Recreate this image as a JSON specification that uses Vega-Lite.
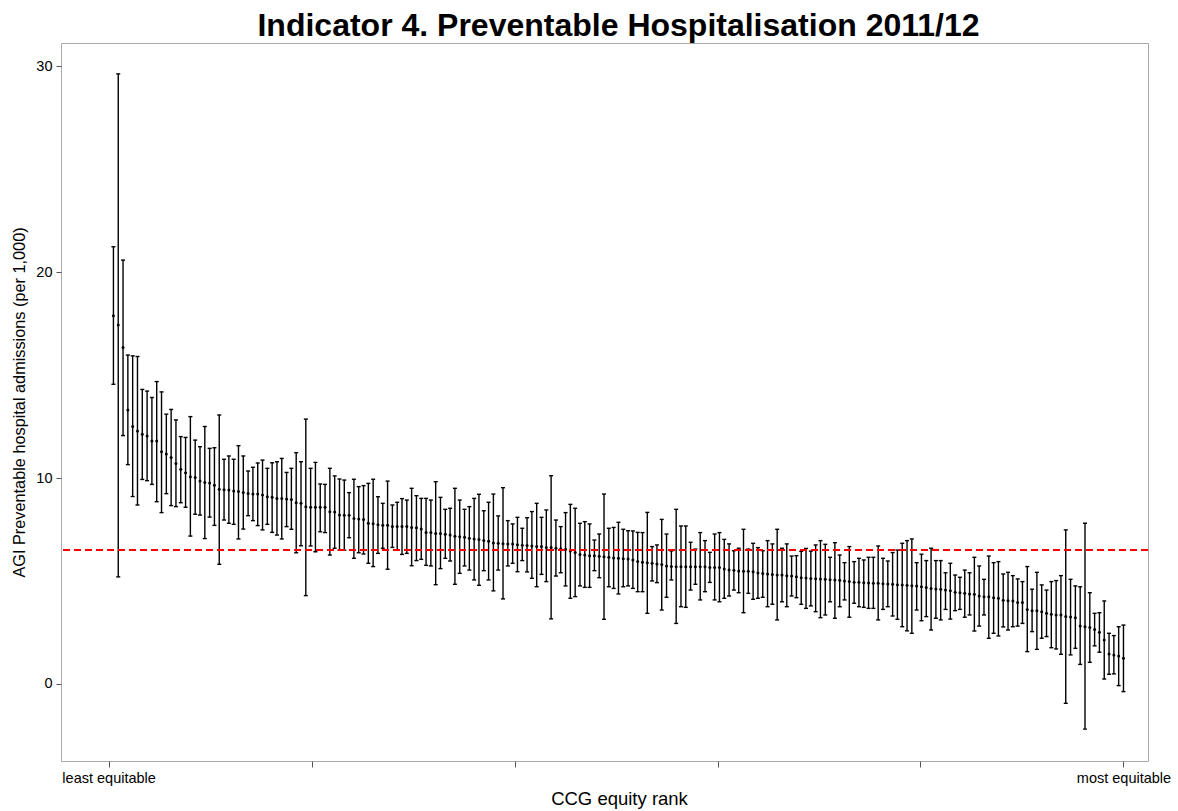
{
  "$schema": "https://vega.github.io/schema/vega-lite/v6.json",
  "autosize": "none",
  "width": 1087,
  "height": 718,
  "padding": {"left": 61, "top": 43, "right": 30, "bottom": 50},
  "background": "white",
  "title": {
    "text": "Indicator 4. Preventable Hospitalisation 2011/12",
    "font": "Liberation Sans",
    "fontSize": 32,
    "fontWeight": "bold",
    "color": "black",
    "anchor": "middle",
    "dx": 14,
    "dy": 31,
    "baseline": "alphabetic",
    "offset": 6
  },
  "config": {
    "view": {"stroke": "#aaaaaa", "strokeWidth": 1},
    "font": "Liberation Sans",
    "axis": {
      "grid": false,
      "domain": false,
      "labelFont": "Liberation Sans",
      "titleFont": "Liberation Sans",
      "labelColor": "black",
      "titleColor": "black",
      "tickColor": "#555555",
      "labelFontSize": 14.5,
      "titleFontWeight": "normal",
      "titleFontSize": 16.3
    }
  },
  "data": {
    "values": [
      {"r":1,"m":17.88,"l":14.55,"h":21.23},{"r":2,"m":17.43,"l":5.2,"h":29.62},{"r":3,"m":16.33,"l":12.06,"h":20.58},{"r":4,"m":13.3,"l":10.65,"h":15.97},{"r":5,"m":12.5,"l":9.1,"h":15.93},{"r":6,"m":12.28,"l":8.69,"h":15.9},{"r":7,"m":12.12,"l":9.93,"h":14.3},{"r":8,"m":12.04,"l":9.87,"h":14.22},{"r":9,"m":11.8,"l":9.69,"h":13.91},{"r":10,"m":11.8,"l":8.85,"h":14.68},
      {"r":11,"m":11.28,"l":8.32,"h":14.18},{"r":12,"m":11.16,"l":9.24,"h":13.1},{"r":13,"m":11.0,"l":8.66,"h":13.33},{"r":14,"m":10.71,"l":8.61,"h":12.82},{"r":15,"m":10.42,"l":8.8,"h":12.01},{"r":16,"m":10.26,"l":8.58,"h":11.97},{"r":17,"m":10.06,"l":7.18,"h":12.98},{"r":18,"m":10.03,"l":8.24,"h":11.84},{"r":19,"m":9.85,"l":8.2,"h":11.52},{"r":20,"m":9.78,"l":7.06,"h":12.5},
      {"r":21,"m":9.76,"l":8.1,"h":11.44},{"r":22,"m":9.65,"l":7.7,"h":11.47},{"r":23,"m":9.45,"l":5.81,"h":13.06},{"r":24,"m":9.43,"l":7.96,"h":10.91},{"r":25,"m":9.42,"l":7.8,"h":11.07},{"r":26,"m":9.37,"l":7.75,"h":10.91},{"r":27,"m":9.34,"l":7.04,"h":11.57},{"r":28,"m":9.3,"l":7.52,"h":11.07},{"r":29,"m":9.25,"l":8.17,"h":10.34},{"r":30,"m":9.22,"l":7.93,"h":10.52},
      {"r":31,"m":9.22,"l":7.69,"h":10.73},{"r":32,"m":9.17,"l":7.48,"h":10.87},{"r":33,"m":9.09,"l":7.75,"h":10.47},{"r":34,"m":9.06,"l":7.36,"h":10.74},{"r":35,"m":9.01,"l":7.23,"h":10.79},{"r":36,"m":9.0,"l":7.04,"h":10.95},{"r":37,"m":8.98,"l":7.64,"h":10.27},{"r":38,"m":8.96,"l":7.51,"h":10.47},{"r":39,"m":8.8,"l":6.37,"h":11.23},{"r":40,"m":8.77,"l":6.71,"h":10.79},
      {"r":41,"m":8.61,"l":4.29,"h":12.86},{"r":42,"m":8.58,"l":6.7,"h":10.47},{"r":43,"m":8.58,"l":6.42,"h":10.76},{"r":44,"m":8.58,"l":7.39,"h":9.71},{"r":45,"m":8.58,"l":7.35,"h":9.69},{"r":46,"m":8.36,"l":6.26,"h":10.47},{"r":47,"m":8.35,"l":6.59,"h":10.1},{"r":48,"m":8.2,"l":6.5,"h":9.95},{"r":49,"m":8.19,"l":6.5,"h":9.9},{"r":50,"m":8.19,"l":7.1,"h":9.29},
      {"r":51,"m":8.03,"l":6.1,"h":9.94},{"r":52,"m":8.01,"l":6.37,"h":9.58},{"r":53,"m":7.99,"l":6.31,"h":9.63},{"r":54,"m":7.8,"l":5.86,"h":9.74},{"r":55,"m":7.78,"l":5.7,"h":9.94},{"r":56,"m":7.73,"l":6.34,"h":9.09},{"r":57,"m":7.7,"l":6.59,"h":8.77},{"r":58,"m":7.7,"l":5.57,"h":9.85},{"r":59,"m":7.65,"l":6.63,"h":8.69},{"r":60,"m":7.65,"l":6.5,"h":8.82},
      {"r":61,"m":7.64,"l":6.29,"h":9.0},{"r":62,"m":7.64,"l":6.34,"h":8.93},{"r":63,"m":7.6,"l":5.74,"h":9.5},{"r":64,"m":7.59,"l":5.99,"h":9.14},{"r":65,"m":7.52,"l":6.05,"h":9.01},{"r":66,"m":7.36,"l":5.76,"h":9.01},{"r":67,"m":7.35,"l":5.73,"h":8.93},{"r":68,"m":7.31,"l":4.82,"h":9.82},{"r":69,"m":7.3,"l":5.6,"h":9.06},{"r":70,"m":7.27,"l":6.1,"h":8.48},
      {"r":71,"m":7.23,"l":5.97,"h":8.53},{"r":72,"m":7.17,"l":4.84,"h":9.5},{"r":73,"m":7.15,"l":5.37,"h":8.93},{"r":74,"m":7.12,"l":5.73,"h":8.48},{"r":75,"m":7.07,"l":5.53,"h":8.61},{"r":76,"m":7.04,"l":5.05,"h":9.01},{"r":77,"m":7.01,"l":4.79,"h":9.21},{"r":78,"m":6.96,"l":5.5,"h":8.41},{"r":79,"m":6.93,"l":5.05,"h":8.82},{"r":80,"m":6.85,"l":4.52,"h":9.22},
      {"r":81,"m":6.83,"l":5.53,"h":8.16},{"r":82,"m":6.81,"l":4.13,"h":9.53},{"r":83,"m":6.8,"l":5.73,"h":7.93},{"r":84,"m":6.8,"l":5.86,"h":7.77},{"r":85,"m":6.76,"l":5.45,"h":8.09},{"r":86,"m":6.73,"l":5.99,"h":7.56},{"r":87,"m":6.72,"l":5.44,"h":8.07},{"r":88,"m":6.7,"l":5.13,"h":8.37},{"r":89,"m":6.67,"l":4.72,"h":8.77},{"r":90,"m":6.67,"l":5.32,"h":8.09},
      {"r":91,"m":6.63,"l":4.97,"h":8.45},{"r":92,"m":6.62,"l":3.16,"h":10.11},{"r":93,"m":6.59,"l":5.24,"h":7.96},{"r":94,"m":6.57,"l":5.4,"h":7.64},{"r":95,"m":6.54,"l":4.76,"h":8.32},{"r":96,"m":6.46,"l":4.16,"h":8.72},{"r":97,"m":6.38,"l":4.24,"h":8.53},{"r":98,"m":6.29,"l":4.76,"h":7.8},{"r":99,"m":6.26,"l":4.69,"h":7.88},{"r":100,"m":6.23,"l":4.69,"h":7.77},
      {"r":101,"m":6.23,"l":5.5,"h":6.99},{"r":102,"m":6.2,"l":5.16,"h":7.28},{"r":103,"m":6.18,"l":3.14,"h":9.22},{"r":104,"m":6.15,"l":4.72,"h":7.56},{"r":105,"m":6.12,"l":4.64,"h":7.6},{"r":106,"m":6.1,"l":4.37,"h":7.85},{"r":107,"m":6.08,"l":4.72,"h":7.51},{"r":108,"m":6.07,"l":4.76,"h":7.44},{"r":109,"m":6.02,"l":4.64,"h":7.43},{"r":110,"m":5.94,"l":4.48,"h":7.36},
      {"r":111,"m":5.91,"l":4.48,"h":7.35},{"r":112,"m":5.89,"l":3.43,"h":8.33},{"r":113,"m":5.86,"l":5.0,"h":6.67},{"r":114,"m":5.82,"l":4.92,"h":6.75},{"r":115,"m":5.8,"l":3.59,"h":7.99},{"r":116,"m":5.73,"l":4.21,"h":7.28},{"r":117,"m":5.7,"l":5.05,"h":6.46},{"r":118,"m":5.69,"l":2.94,"h":8.48},{"r":119,"m":5.69,"l":3.75,"h":7.67},{"r":120,"m":5.69,"l":3.72,"h":7.67},
      {"r":121,"m":5.69,"l":4.56,"h":6.88},{"r":122,"m":5.69,"l":4.84,"h":6.55},{"r":123,"m":5.69,"l":4.08,"h":7.35},{"r":124,"m":5.69,"l":4.48,"h":6.96},{"r":125,"m":5.66,"l":4.93,"h":6.39},{"r":126,"m":5.66,"l":4.08,"h":7.28},{"r":127,"m":5.65,"l":3.99,"h":7.35},{"r":128,"m":5.58,"l":4.16,"h":7.02},{"r":129,"m":5.53,"l":4.27,"h":6.8},{"r":130,"m":5.52,"l":4.56,"h":6.47},
      {"r":131,"m":5.49,"l":4.43,"h":6.59},{"r":132,"m":5.47,"l":3.46,"h":7.51},{"r":133,"m":5.47,"l":4.4,"h":6.55},{"r":134,"m":5.45,"l":4.11,"h":6.83},{"r":135,"m":5.39,"l":4.16,"h":6.62},{"r":136,"m":5.36,"l":4.21,"h":6.47},{"r":137,"m":5.34,"l":3.75,"h":6.96},{"r":138,"m":5.31,"l":3.87,"h":6.8},{"r":139,"m":5.29,"l":3.11,"h":7.51},{"r":140,"m":5.29,"l":3.99,"h":6.59},
      {"r":141,"m":5.26,"l":3.75,"h":6.8},{"r":142,"m":5.24,"l":4.27,"h":6.21},{"r":143,"m":5.21,"l":4.19,"h":6.23},{"r":144,"m":5.16,"l":3.87,"h":6.44},{"r":145,"m":5.14,"l":3.67,"h":6.58},{"r":146,"m":5.12,"l":3.79,"h":6.45},{"r":147,"m":5.11,"l":3.51,"h":6.75},{"r":148,"m":5.1,"l":3.22,"h":6.96},{"r":149,"m":5.08,"l":3.35,"h":6.78},{"r":150,"m":5.06,"l":3.99,"h":6.15},
      {"r":151,"m":5.05,"l":3.19,"h":6.86},{"r":152,"m":5.03,"l":3.75,"h":6.26},{"r":153,"m":5.0,"l":4.08,"h":5.89},{"r":154,"m":4.97,"l":3.24,"h":6.67},{"r":155,"m":4.94,"l":3.92,"h":5.94},{"r":156,"m":4.94,"l":3.75,"h":6.1},{"r":157,"m":4.92,"l":3.72,"h":6.02},{"r":158,"m":4.9,"l":3.67,"h":6.15},{"r":159,"m":4.89,"l":3.67,"h":6.15},{"r":160,"m":4.89,"l":3.11,"h":6.7},
      {"r":161,"m":4.87,"l":3.62,"h":6.1},{"r":162,"m":4.85,"l":3.75,"h":5.97},{"r":163,"m":4.84,"l":3.3,"h":6.38},{"r":164,"m":4.82,"l":3.14,"h":6.5},{"r":165,"m":4.81,"l":2.78,"h":6.83},{"r":166,"m":4.79,"l":2.58,"h":6.96},{"r":167,"m":4.77,"l":2.46,"h":7.04},{"r":168,"m":4.76,"l":3.59,"h":5.89},{"r":169,"m":4.72,"l":3.07,"h":6.3},{"r":170,"m":4.68,"l":3.27,"h":5.99},
      {"r":171,"m":4.64,"l":2.62,"h":6.59},{"r":172,"m":4.61,"l":3.19,"h":5.99},{"r":173,"m":4.6,"l":3.11,"h":5.99},{"r":174,"m":4.56,"l":3.62,"h":5.4},{"r":175,"m":4.53,"l":3.15,"h":5.86},{"r":176,"m":4.45,"l":3.56,"h":5.29},{"r":177,"m":4.43,"l":3.62,"h":5.18},{"r":178,"m":4.4,"l":3.24,"h":5.53},{"r":179,"m":4.37,"l":3.35,"h":5.4},{"r":180,"m":4.35,"l":2.57,"h":6.15},
      {"r":181,"m":4.27,"l":2.81,"h":5.73},{"r":182,"m":4.24,"l":3.35,"h":5.08},{"r":183,"m":4.24,"l":2.22,"h":6.21},{"r":184,"m":4.19,"l":2.46,"h":5.89},{"r":185,"m":4.16,"l":2.33,"h":5.94},{"r":186,"m":4.06,"l":2.77,"h":5.34},{"r":187,"m":4.04,"l":2.62,"h":5.42},{"r":188,"m":4.03,"l":2.78,"h":5.26},{"r":189,"m":3.96,"l":2.81,"h":5.1},{"r":190,"m":3.96,"l":2.94,"h":4.97},
      {"r":191,"m":3.62,"l":1.57,"h":5.7},{"r":192,"m":3.56,"l":2.54,"h":4.6},{"r":193,"m":3.56,"l":1.68,"h":5.42},{"r":194,"m":3.51,"l":2.22,"h":4.81},{"r":195,"m":3.43,"l":2.3,"h":4.56},{"r":196,"m":3.38,"l":1.76,"h":4.97},{"r":197,"m":3.35,"l":1.7,"h":5.02},{"r":198,"m":3.35,"l":1.44,"h":5.26},{"r":199,"m":3.27,"l":-0.94,"h":7.48},{"r":200,"m":3.25,"l":1.41,"h":5.08},
      {"r":201,"m":3.22,"l":1.73,"h":4.76},{"r":202,"m":2.82,"l":0.95,"h":4.72},{"r":203,"m":2.78,"l":-2.19,"h":7.8},{"r":204,"m":2.74,"l":1.05,"h":4.43},{"r":205,"m":2.65,"l":1.85,"h":3.43},{"r":206,"m":2.51,"l":1.54,"h":3.46},{"r":207,"m":2.14,"l":0.24,"h":4.03},{"r":208,"m":1.46,"l":0.47,"h":2.46},{"r":209,"m":1.41,"l":0.49,"h":2.35},{"r":210,"m":1.36,"l":-0.08,"h":2.78},
      {"r":211,"m":1.25,"l":-0.37,"h":2.86}
    ]
  },
  "layer": [
    {
      "mark": {"type": "rule", "color": "black", "strokeWidth": 1.4},
      "encoding": {
        "x": {
          "field": "r", "type": "quantitative",
          "scale": {"domain": [-9.9, 216.1], "nice": false, "zero": false},
          "axis": {
            "values": [0, 42.2, 84.4, 126.6, 168.8, 211],
            "labelExpr": "datum.value == 0 ? 'least equitable' : (datum.value == 211 ? 'most equitable' : '')",
            "labelOverlap": false,
            "labelFlush": false,
            "tickSize": 6,
            "labelPadding": 4,
            "title": "CCG equity rank",
            "titleFontSize": 18.5,
            "titlePadding": 5,
            "titleX": 558
          }
        },
        "y": {
          "field": "l", "type": "quantitative",
          "scale": {"domain": [-3.74, 31.12], "nice": false, "zero": false},
          "axis": {
            "values": [0, 10, 20, 30],
            "tickSize": 5,
            "labelPadding": 4,
            "title": "AGI Preventable hospital admissions (per 1,000)",
            "titlePadding": 8
          }
        },
        "y2": {"field": "h"}
      }
    },
    {
      "mark": {"type": "tick", "orient": "horizontal", "color": "black", "size": 4, "thickness": 1.4, "opacity": 1},
      "encoding": {
        "x": {"field": "r", "type": "quantitative"},
        "y": {"field": "h", "type": "quantitative"}
      }
    },
    {
      "mark": {"type": "tick", "orient": "horizontal", "color": "black", "size": 4, "thickness": 1.4, "opacity": 1},
      "encoding": {
        "x": {"field": "r", "type": "quantitative"},
        "y": {"field": "l", "type": "quantitative"}
      }
    },
    {
      "mark": {"type": "point", "filled": true, "shape": "circle", "color": "black", "size": 9, "opacity": 1},
      "encoding": {
        "x": {"field": "r", "type": "quantitative"},
        "y": {"field": "m", "type": "quantitative"}
      }
    },
    {
      "mark": {"type": "rule", "color": "#ff0000", "strokeWidth": 1.5, "strokeDash": [7, 4]},
      "encoding": {
        "y": {"datum": 6.5}
      }
    }
  ]
}
